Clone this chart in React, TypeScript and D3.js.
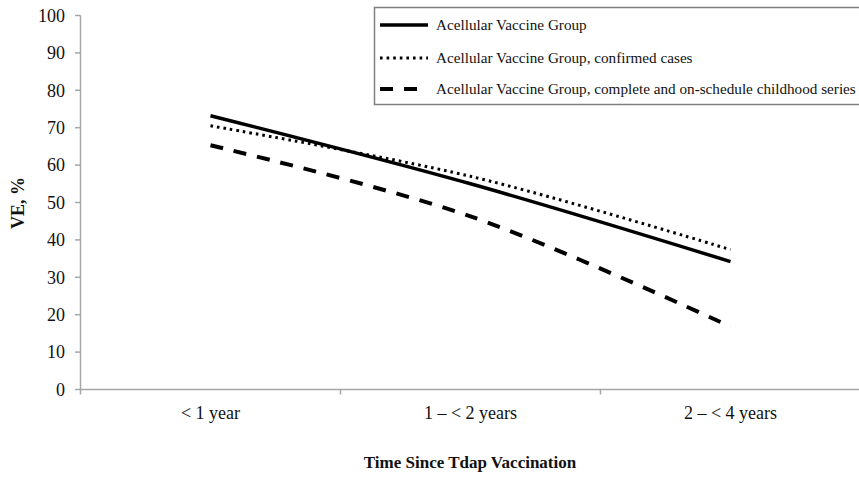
import React from "react";
import * as d3 from "d3";

const categories = ["< 1 year", "1 \u2013 < 2 years", "2 \u2013 < 4 years"];
const seriesNames = [
  "Acellular Vaccine Group",
  "Acellular Vaccine Group, confirmed cases",
  "Acellular Vaccine Group, complete and on-schedule childhood series",
];
const solidValues = [73.2, 55.0, 34.2];
const dottedValues = [70.5, 57.0, 37.4];
const dashedValues = [65.3, 46.3, 16.8];
const yTicks = [0, 10, 20, 30, 40, 50, 60, 70, 80, 90, 100];

const W = 859;
const H = 477;
const FONT = "Liberation Serif, Times New Roman, DejaVu Serif, serif";
const tf: React.CSSProperties = { fontFamily: FONT };

export default function App() {
  const x = d3.scaleBand<string>().domain(categories).range([80.5, 860.5]);
  const y = d3.scaleLinear().domain([0, 100]).range([389.5, 15.5]);
  const line = d3
    .line<number>()
    .x((_, i) => (x(categories[i]) as number) + x.bandwidth() / 2)
    .y((d) => y(d))
    .curve(d3.curveCatmullRom.alpha(0.5));

  const series = [
    { name: seriesNames[0], values: solidValues, dash: "none", width: 3.5 },
    { name: seriesNames[1], values: dottedValues, dash: "2.6,4", width: 3 },
    { name: seriesNames[2], values: dashedValues, dash: "13,11", width: 4 },
  ];
  const axisColor = "#a6a6a6";
  const bounds = [...categories.map((c) => x(c) as number), x.range()[1]];
  const legendRows = [25, 58, 89];

  return (
    <svg
      width={W}
      height={H}
      style={{ position: "absolute", left: 0, top: 0, background: "#fff", fontFamily: FONT }}
    >
      {/* y axis */}
      <line x1={80.5} x2={80.5} y1={y(100)} y2={y(0)} stroke={axisColor} strokeWidth={1.5} />
      {yTicks.map((t) => (
        <g key={t}>
          <line x1={75} x2={80.5} y1={y(t)} y2={y(t)} stroke={axisColor} strokeWidth={1.5} />
          <text x={65} y={y(t)} dy="0.35em" textAnchor="end" fontSize={18} fill="#111" style={tf}>
            {t}
          </text>
        </g>
      ))}
      {/* x axis */}
      <line x1={80.5} x2={W} y1={y(0)} y2={y(0)} stroke={axisColor} strokeWidth={1.5} />
      {bounds.map((b, i) => (
        <line key={i} x1={b} x2={b} y1={y(0)} y2={y(0) + 5} stroke={axisColor} strokeWidth={1.5} />
      ))}
      {categories.map((c) => (
        <text
          key={c}
          x={(x(c) as number) + x.bandwidth() / 2}
          y={419}
          textAnchor="middle"
          fontSize={18}
          fill="#111"
          style={tf}
        >
          {c}
        </text>
      ))}
      <text x={470} y={468} textAnchor="middle" fontSize={17} fontWeight="bold" fill="#111" style={tf}>
        Time Since Tdap Vaccination
      </text>
      <text
        transform={`translate(24,${203}) rotate(-90)`}
        textAnchor="middle"
        fontSize={18}
        fontWeight="bold"
        fill="#111"
        style={tf}
      >
        VE, %
      </text>

      {/* lines */}
      {series.map((s) => (
        <path
          key={s.name}
          d={line(s.values) || ""}
          fill="none"
          stroke="#000"
          strokeWidth={s.width}
          strokeDasharray={s.dash}
          strokeLinecap="butt"
        />
      ))}

      {/* legend */}
      <rect x={374.5} y={7.5} width={520} height={97} fill="#fff" stroke="#808080" strokeWidth={1.5} />
      {series.map((s, i) => (
        <g key={s.name}>
          <line
            x1={380}
            x2={428}
            y1={legendRows[i]}
            y2={legendRows[i]}
            stroke="#000"
            strokeWidth={s.width}
            strokeDasharray={s.dash}
          />
          <text x={436} y={legendRows[i]} dy="0.35em" fontSize={15.2} fill="#111" style={tf}>
            {s.name}
          </text>
        </g>
      ))}
    </svg>
  );
}
